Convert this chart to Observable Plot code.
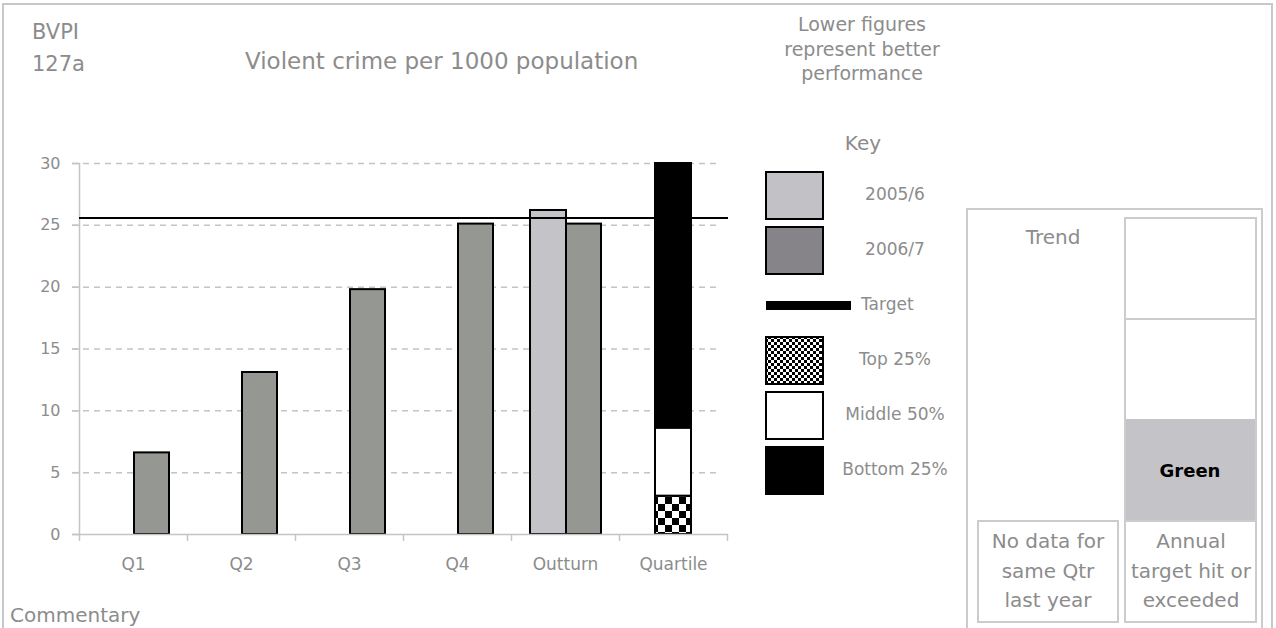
<!DOCTYPE html>
<html>
<head>
<meta charset="utf-8">
<script src="https://cdn.jsdelivr.net/npm/d3@7"></script>
<script src="https://cdn.jsdelivr.net/npm/@observablehq/plot@0.6"></script>
<style>
  html, body { margin: 0; padding: 0; background: #fff; }
  #wrap { position: relative; width: 1276px; height: 628px; overflow: hidden; font-family: "DejaVu Sans", sans-serif; }
  #wrap > svg { position: absolute; left: 0; top: 0; }
</style>
</head>
<body>
<div id="wrap"></div>
<script>
// ---- data ----
const categories = ["Q1", "Q2", "Q3", "Q4", "Outturn", "Quartile"];
const series0506 = [null, null, null, null, 26.2, null];
const series0607 = [6.6, 13.1, 19.8, 25.1, 25.1, null];
const targetValue = 25.6;
const quartileNames = ["Top 25%", "Middle 50%", "Bottom 25%"];
const quartileBounds = [0, 3.1, 8.6, 30];
const yTicks = [0, 5, 10, 15, 20, 25, 30];
const keyLabels = ["2005/6", "2006/7", "Target", "Top 25%", "Middle 50%", "Bottom 25%"];
const introLines = ["Lower figures", "represent better", "performance"];
const trendLines = ["No data for", "same Qtr", "last year"];
const targetLines = ["Annual", "target hit or", "exceeded"];

// ---- styles ----
const TXT = "#8c8c8c";
const GRID = "#c4c4c4";
const LINE = "#cccccc";
const C0506 = "#c4c3c8";
const C0607 = "#959793";

const rows0506 = categories.map((c, i) => ({category: c, value: series0506[i]})).filter(d => d.value != null);
const rows0607 = categories.map((c, i) => ({category: c, value: series0607[i]})).filter(d => d.value != null);
const quartileRows = quartileNames.map((n, i) => ({category: "Quartile", band: n, y1: quartileBounds[i], y2: quartileBounds[i + 1]}));
const quartileFill = ["url(#chk)", "#ffffff", "#000000"];

const wrap = d3.select("#wrap");

// ---- decoration layer (behind) ----
const deco = wrap.append("svg").attr("width", 1276).attr("height", 628)
  .style("font-family", "'DejaVu Sans', sans-serif");
const defs = deco.append("defs");
function checker(sel, id, s) {
  const p = sel.append("pattern").attr("id", id).attr("width", 2 * s).attr("height", 2 * s).attr("patternUnits", "userSpaceOnUse");
  p.append("rect").attr("width", 2 * s).attr("height", 2 * s).attr("fill", "#fff");
  p.append("rect").attr("width", s).attr("height", s).attr("fill", "#000");
  p.append("rect").attr("x", s).attr("y", s).attr("width", s).attr("height", s).attr("fill", "#000");
}
checker(defs, "chk2", 3);

function txt(x, y, s, size, anchor = "start", opts = {}) {
  deco.append("text").attr("x", x).attr("y", y).attr("text-anchor", anchor)
    .attr("font-size", size).attr("fill", opts.fill || TXT).attr("font-weight", opts.weight || "normal")
    .text(s);
}
function box(x, y, w, h, fill = "none", stroke = LINE, sw = 2) {
  deco.append("rect").attr("x", x).attr("y", y).attr("width", w).attr("height", h)
    .attr("fill", fill).attr("stroke", stroke).attr("stroke-width", sw);
}

// page border
box(3, 4, 1269, 700, "none", "#c8c8c8", 2);

// headings
txt(32, 39, "BVPI", 21);
txt(32, 71, "127a", 21);
txt(245, 69, "Violent crime per 1000 population", 23);

introLines.forEach((s, i) => txt(862, 31 + i * 24.5, s, 19, "middle"));
txt(863, 150, "Key", 20, "middle");

// key
box(766, 172, 57, 47, "#c2c1c5", "#000", 2);
box(766, 227, 57, 47, "#868488", "#000", 2);
deco.append("rect").attr("x", 766).attr("y", 301).attr("width", 85).attr("height", 9).attr("fill", "#000");
box(766, 337, 57, 47, "url(#chk2)", "#000", 2);
box(766, 392, 57, 47, "#ffffff", "#000", 2);
box(766, 447, 57, 47, "#000000", "#000", 2);
txt(895, 200, keyLabels[0], 17, "middle");
txt(895, 255, keyLabels[1], 17, "middle");
txt(861, 310, keyLabels[2], 17, "start");
txt(895, 365, keyLabels[3], 17, "middle");
txt(895, 420, keyLabels[4], 17, "middle");
txt(895, 475, keyLabels[5], 17, "middle");

// right panel
box(967, 209, 295, 500, "none", LINE, 2);
box(1125, 218, 131, 302, "#fff", LINE, 2);
deco.append("rect").attr("x", 1126).attr("y", 419).attr("width", 129).attr("height", 101).attr("fill", "#c4c3c7");
deco.append("line").attr("x1", 1125).attr("x2", 1256).attr("y1", 319).attr("y2", 319).attr("stroke", LINE).attr("stroke-width", 2);
txt(1053, 244, "Trend", 20, "middle");
txt(1190, 477, "Green", 18, "middle", {fill: "#000", weight: "bold"});
box(978, 521, 140, 101, "none", LINE, 2);
box(1125, 521, 131, 101, "none", LINE, 2);
trendLines.forEach((s, i) => txt(1048, 548 + i * 29.5, s, 20, "middle"));
targetLines.forEach((s, i) => txt(1191, 548 + i * 29.5, s, 20, "middle"));

txt(10, 622, "Commentary", 20);

// ---- chart ----
const chart = Plot.plot({
  width: 1276,
  height: 628,
  marginLeft: 79,
  marginRight: 549,
  marginTop: 163,
  marginBottom: 94,
  style: {fontFamily: "'DejaVu Sans', sans-serif", fontSize: "16px", color: TXT, background: "transparent", overflow: "visible"},
  x: {domain: categories, padding: 0, axis: null},
  y: {domain: [0, 30], axis: null},
  marks: [
    Plot.ruleY(yTicks.slice(1), {stroke: GRID, strokeWidth: 1.5, strokeDasharray: "6,5", insetLeft: -7, insetRight: 6}),
    Plot.axisY({ticks: yTicks, tickSize: 7, tickPadding: 12, stroke: GRID, strokeWidth: 1.5, fontSize: 16, label: null}),
    Plot.axisX({tickSize: 0, tickPadding: 23, fontSize: 17, label: null}),
    Plot.frame({anchor: "left", stroke: GRID, strokeWidth: 1.5}),
    Plot.ruleX(categories, {x: d => d, y1: 0, y2: 0, insetBottom: -7, dx: -54, stroke: GRID, strokeWidth: 1.5}),
    Plot.ruleX([categories[categories.length - 1]], {x: d => d, y1: 0, y2: 0, insetBottom: -7, dx: 54, stroke: GRID, strokeWidth: 1.5}),
    Plot.barY(rows0506, {x: "category", y: "value", fill: C0506, stroke: "#000", strokeWidth: 2, insetLeft: 19, insetRight: 53}),
    Plot.barY(rows0607, {x: "category", y: "value", fill: C0607, stroke: "#000", strokeWidth: 2, insetLeft: 55, insetRight: 18}),
    ...quartileRows.map((r, i) =>
      Plot.barY([r], {x: "category", y1: "y1", y2: "y2", fill: quartileFill[i], stroke: "#000", strokeWidth: 2, insetLeft: 36, insetRight: 36})
    ),
    Plot.ruleY([0], {stroke: GRID, strokeWidth: 1.5, insetLeft: -7, insetRight: -1}),
    Plot.ruleY([targetValue], {stroke: "#000", strokeWidth: 2, insetRight: -1})
  ]
});
checker(d3.select(chart).insert("defs", ":first-child"), "chk", 7);
document.getElementById("wrap").appendChild(chart);
</script>
</body>
</html>
